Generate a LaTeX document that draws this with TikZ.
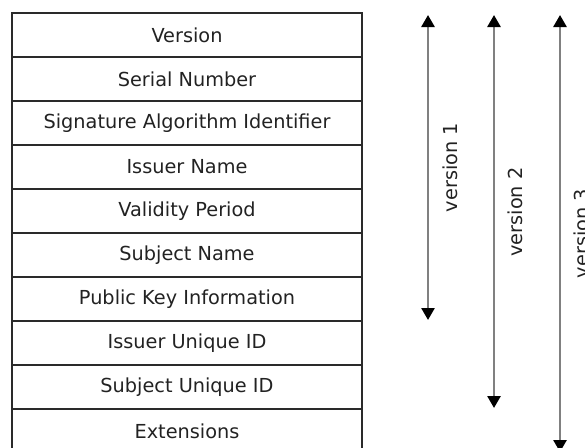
\documentclass[tikz,border=0pt]{standalone}
\usepackage{fontspec}
\setmainfont{DejaVu Sans}
\usetikzlibrary{arrows.meta}
\definecolor{txt}{HTML}{222222}
\definecolor{rule}{HTML}{2A2A2A}
\definecolor{shaft}{HTML}{808080}
\begin{document}
\begin{tikzpicture}[x=1pt,y=-1pt,
  field/.style={draw=rule,line width=1.5pt,minimum width=350pt,minimum height=44pt,
    inner sep=0pt,outer sep=0pt,text=txt,font=\fontsize{19.3}{23}\selectfont},
  span/.style={draw=shaft,line width=2.6pt,
    {Triangle[length=12pt,width=13pt,color=black]}-{Triangle[length=12pt,width=13pt,color=black]}},
  vlabel/.style={rotate=90,inner sep=0pt,text=txt,font=\fontsize{19.3}{23}\selectfont}]
\useasboundingbox (0,0) rectangle (585,447);
\clip (0,0) rectangle (585,447);
\node[field] (r0) at (187,35) {Version};
\node[field] (r1) at (187,79) {Serial Number};
\node[field] (r2) at (187,123) {Signature Algorithm Identifier};
\node[field] (r3) at (187,167) {Issuer Name};
\node[field] (r4) at (187,211) {Validity Period};
\node[field] (r5) at (187,255) {Subject Name};
\node[field] (r6) at (187,299) {Public Key Information};
\node[field] (r7) at (187,343) {Issuer Unique ID};
\node[field] (r8) at (187,387) {Subject Unique ID};
\node[field] (r9) at (187,431) {Extensions};
\coordinate (a1t) at (428,15);
\coordinate (a1b) at (428,320);
\coordinate (a2t) at (494,15);
\coordinate (a2b) at (494,408);
\coordinate (a3t) at (560,15);
\coordinate (a3b) at (560,452);
\draw[span] (a1t) -- (a1b);
\draw[span] (a2t) -- (a2b);
\draw[span] (a3t) -- (a3b);
\node[vlabel] (v1) at (450,167.5) {version 1};
\node[vlabel] (v2) at (515.5,212) {version 2};
\node[vlabel] (v3) at (581.5,233.5) {version 3};
\end{tikzpicture}
\end{document}
